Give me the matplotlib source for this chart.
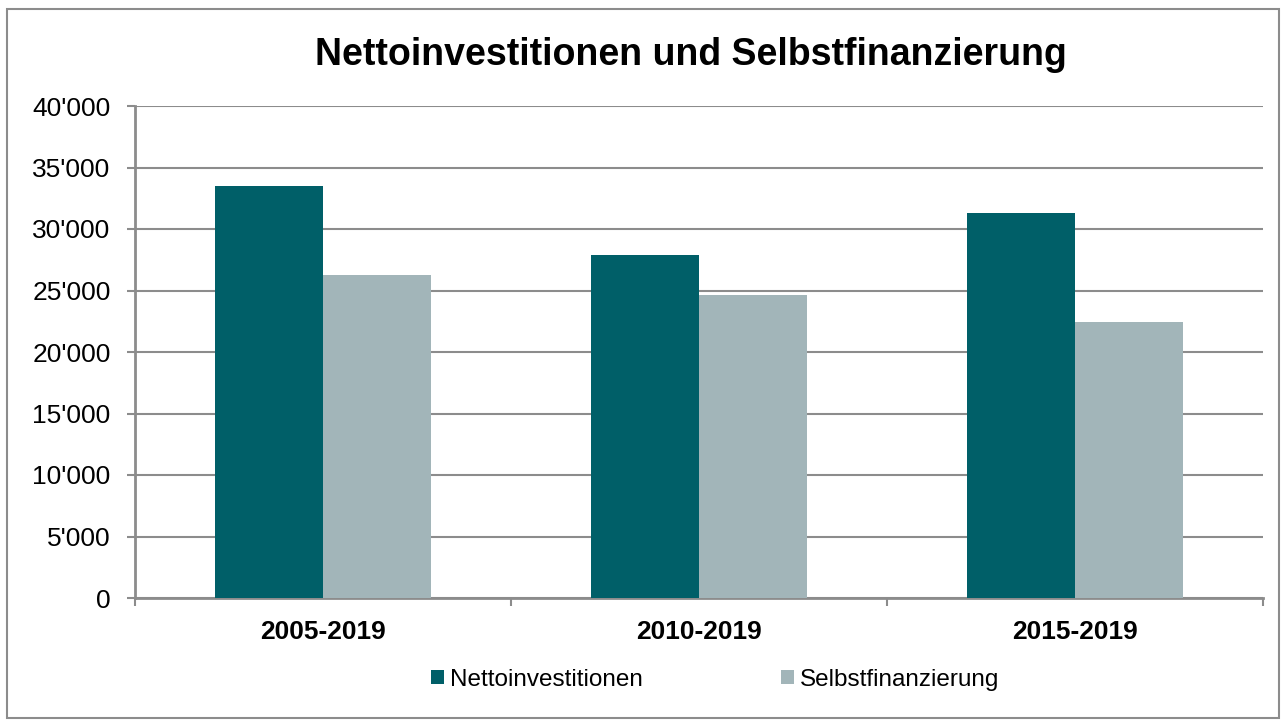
import matplotlib
matplotlib.use("Agg")
import matplotlib.pyplot as plt
from matplotlib.ticker import FuncFormatter, FixedLocator
from matplotlib.patches import Rectangle
import numpy as np

plt.rcParams['font.family'] = ['Liberation Sans', 'DejaVu Sans']

categories = ["2005-2019", "2010-2019", "2015-2019"]
netto = [33500, 27900, 31300]
selbst = [26300, 24650, 22450]
series_names = ["Nettoinvestitionen", "Selbstfinanzierung"]
colors = ["#005F68", "#A2B5B9"]

W, H = 1281, 720
fig = plt.figure(figsize=(W/100, H/100), dpi=100)
fig.patches.append(Rectangle((7/W, 2/H), (W-9)/W, (H-11)/H, transform=fig.transFigure,
                             fill=False, edgecolor="#8c8c8c", linewidth=1.5))

ax = fig.add_axes([135/W, 1-598/H, (1263-135)/W, (598-106)/H])
x = np.arange(len(categories))
bw = 0.286
ax.bar(x - bw/2, netto, bw, color=colors[0], label=series_names[0], zorder=3)
ax.bar(x + bw/2, selbst, bw, color=colors[1], label=series_names[1], zorder=3)

ax.set_xlim(-0.5, len(categories) - 0.5)
ax.set_ylim(0, 40000)
ax.set_yticks(np.arange(0, 40001, 5000))
ax.yaxis.set_major_formatter(FuncFormatter(lambda v, p: f"{int(v):,}".replace(",", "'")))
ax.yaxis.grid(True, color="#8c8c8c", linewidth=1.5, zorder=0)
ax.set_xticks(x)
ax.set_xticklabels(categories, fontweight="bold", fontsize=19)
ax.xaxis.set_minor_locator(FixedLocator(np.arange(-0.5, len(categories), 1.0)))
ax.tick_params(axis='x', which='major', length=0, pad=16)
ax.tick_params(axis='x', which='minor', length=6, width=1.5, color="#8c8c8c", direction='out')
ax.tick_params(axis='y', length=5.5, width=1.5, color="#8c8c8c", labelsize=19, pad=12)
for s in ["top", "right"]:
    ax.spines[s].set_visible(False)
for s in ["left", "bottom"]:
    ax.spines[s].set_color("#8c8c8c")
    ax.spines[s].set_linewidth(2)

fig.text(691/W, 1-55/H, "Nettoinvestitionen und Selbstfinanzierung", ha="center", va="center",
         fontsize=27, fontweight="bold")

leg = fig.legend(loc="center", bbox_to_anchor=(715/W, 1-680/H), ncol=2, frameon=False,
                 fontsize=17.5, handlelength=0.52, handleheight=0.52, handletextpad=0.25,
                 columnspacing=5.7)

fig.savefig("out.png", dpi=100)
